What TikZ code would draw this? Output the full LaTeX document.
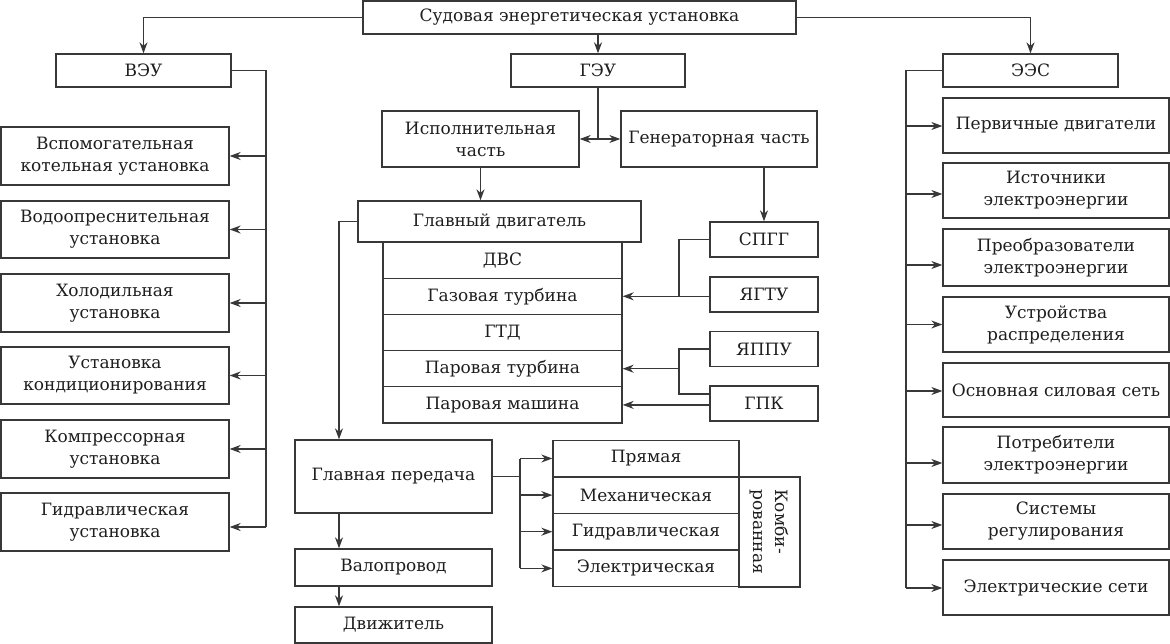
\documentclass[tikz,border=0pt]{standalone}
\usepackage{fontspec}
\setmainfont{DejaVu Serif}
\usetikzlibrary{arrows.meta}
\definecolor{lncol}{HTML}{383838}
\definecolor{txcol}{HTML}{1E1E1E}
\tikzset{
  box/.style={draw=lncol, line width=1.3pt, inner sep=0pt, align=center, text=txcol,
    font=\fontsize{17}{22}\selectfont},
  arr/.style={draw=lncol, line width=1.3pt, -{Stealth[length=11pt,width=8pt,inset=3.5pt]}},
  plain/.style={draw=lncol, line width=1.3pt},
}
\begin{document}
\begin{tikzpicture}[x=1pt,y=-1pt]
\useasboundingbox (0,0) rectangle (1170,644);
% top level
\node[box, minimum width=433, minimum height=33] (top) at (579.5,17.5) {Судовая энергетическая установка};
\node[box, minimum width=175, minimum height=33] (veu) at (143.5,70.5) {ВЭУ};
\node[box, minimum width=174, minimum height=33] (geu) at (598,70.5) {ГЭУ};
\node[box, minimum width=175, minimum height=33] (ees) at (1030.5,70.5) {ЭЭС};
% middle
\node[box, minimum width=197, minimum height=56] (isp) at (480.5,139) {Исполнительная\\часть};
\node[box, minimum width=196, minimum height=56] (gen) at (719,139) {Генераторная часть};
\node[box, minimum width=283, minimum height=41] (gd) at (499.5,221.5) {Главный двигатель};
\node[box, minimum width=239, minimum height=36.2] (dvs) at (502.5,260.1) {ДВС};
\node[box, minimum width=239, minimum height=36.2] (gt) at (502.5,296.3) {Газовая турбина};
\node[box, minimum width=239, minimum height=36.2] (gtd) at (502.5,332.5) {ГТД};
\node[box, minimum width=239, minimum height=36.2] (pt) at (502.5,368.7) {Паровая турбина};
\node[box, minimum width=239, minimum height=36.2] (pm) at (502.5,404.9) {Паровая машина};
\node[box, minimum width=108, minimum height=35] (spgg) at (764,239.5) {СПГГ};
\node[box, minimum width=108, minimum height=35] (jgtu) at (764,294.5) {ЯГТУ};
\node[box, minimum width=108, minimum height=35] (jappu) at (764,349) {ЯППУ};
\node[box, minimum width=108, minimum height=35] (gpk) at (764,403.5) {ГПК};
\node[box, minimum width=197, minimum height=73] (gp) at (393.5,476.5) {Главная передача};
\node[box, minimum width=197, minimum height=37] (val) at (393.5,567.5) {Валопровод};
\node[box, minimum width=197, minimum height=36] (dv) at (393.5,625) {Движитель};
\node[box, minimum width=186, minimum height=36.7] (pr) at (646,458.5) {Прямая};
\node[box, minimum width=186, minimum height=36.7] (meh) at (646,495.1) {Механическая};
\node[box, minimum width=186, minimum height=36.7] (gidr) at (646,531.7) {Гидравлическая};
\node[box, minimum width=186, minimum height=36.7] (el) at (646,568.4) {Электрическая};
\node[box, rotate=-90, align=left, minimum width=110, minimum height=61] (komb) at (769.5,532) {Комби-\\рованная};
% left column
\node[box, minimum width=228, minimum height=58] (a1) at (115,156) {Вспомогательная\\котельная установка};
\node[box, minimum width=228, minimum height=57] (a2) at (115,229.5) {Водоопреснительная\\установка};
\node[box, minimum width=228, minimum height=58] (a3) at (115,303) {Холодильная\\установка};
\node[box, minimum width=228, minimum height=57] (a4) at (115,375.5) {Установка\\кондиционирования};
\node[box, minimum width=228, minimum height=58] (a5) at (115,449) {Компрессорная\\установка};
\node[box, minimum width=228, minimum height=58] (a6) at (115,522) {Гидравлическая\\установка};
% right column
\node[box, minimum width=226, minimum height=55] (r1) at (1056,125.5) {Первичные двигатели};
\node[box, minimum width=226, minimum height=55] (r2) at (1056,190.5) {Источники\\электроэнергии};
\node[box, minimum width=226, minimum height=57] (r3) at (1056,257.5) {Преобразователи\\электроэнергии};
\node[box, minimum width=226, minimum height=55] (r4) at (1056,324.5) {Устройства\\распределения};
\node[box, minimum width=226, minimum height=54] (r5) at (1056,390) {Основная силовая сеть};
\node[box, minimum width=226, minimum height=56] (r6) at (1056,455) {Потребители\\электроэнергии};
\node[box, minimum width=226, minimum height=55] (r7) at (1056,521.5) {Системы\\регулирования};
\node[box, minimum width=226, minimum height=55] (r8) at (1056,587.5) {Электрические сети};
% coordinates
\coordinate (lvb) at (266,527);
\coordinate (rvb) at (906,588);
\coordinate (lx) at (339,0);
\coordinate (bx) at (679,0);
\coordinate (tx) at (520,0);
% top connectors
\draw[arr] (top.west) -| (veu.north);
\draw[arr] (top.east) -| (ees.north);
\draw[arr] (top.south -| geu.north) -- (geu.north);
\draw[arr] (geu.south) |- (isp.east);
\draw[arr] (geu.south) |- (gen.west);
\draw[arr] (isp.south) -- (isp.south |- gd.north);
\draw[arr] (spgg.north |- gen.south) -- (spgg.north);
% left column
\draw[plain] (veu.east) -| (lvb);
\draw[arr] (a1.east -| lvb) -- (a1.east);
\draw[arr] (a2.east -| lvb) -- (a2.east);
\draw[arr] (a3.east -| lvb) -- (a3.east);
\draw[arr] (a4.east -| lvb) -- (a4.east);
\draw[arr] (a5.east -| lvb) -- (a5.east);
\draw[arr] (lvb) -- (lvb -| a6.east);
% right column
\draw[plain] (ees.west) -| (rvb);
\draw[arr] (rvb |- 0,126) -- (r1.west |- 0,126);
\draw[arr] (rvb |- 0,194) -- (r2.west |- 0,194);
\draw[arr] (rvb |- 0,265) -- (r3.west |- 0,265);
\draw[arr] (rvb |- 0,324.5) -- (r4.west |- 0,324.5);
\draw[arr] (rvb |- 0,391) -- (r5.west |- 0,391);
\draw[arr] (rvb |- 0,463) -- (r6.west |- 0,463);
\draw[arr] (rvb |- 0,525) -- (r7.west |- 0,525);
\draw[arr] (rvb) -- (rvb -| r8.west);
% engine / transmission
\draw[arr] (gd.west) -| (lx |- gp.north);
\draw[arr] (gp.south -| lx) -- (val.north -| lx);
\draw[arr] (val.south -| lx) -- (dv.north -| lx);
\draw[plain] (spgg.west) -| (bx |- gt.east);
\draw[arr] (jgtu.west |- gt.east) -- (gt.east);
\draw[plain] (jappu.west) -| (bx |- 0,394) -- (gpk.west |- 0,394);
\draw[arr] (bx |- pt.east) -- (pt.east);
\draw[arr] (gpk.west |- pm.east) -- (pm.east);
\draw[plain] (gp.east) -- (tx |- gp.east);
\draw[plain] (tx |- pr.west) -- (tx |- el.west);
\draw[arr] (tx |- pr.west) -- (pr.west);
\draw[arr] (tx |- meh.west) -- (meh.west);
\draw[arr] (tx |- gidr.west) -- (gidr.west);
\draw[arr] (tx |- el.west) -- (el.west);
\end{tikzpicture}
\end{document}
